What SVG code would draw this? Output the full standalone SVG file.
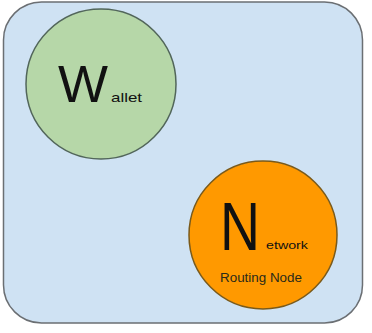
<svg xmlns="http://www.w3.org/2000/svg" width="372" height="333" viewBox="0 0 372 333">
<style>
.t{font-family:"Liberation Sans",Arial,sans-serif;fill:#111}
.s{font-family:"Liberation Sans",Arial,sans-serif;fill:#2a2a1a}
</style>
<rect width="372" height="333" fill="#ffffff"/>
<g id="container">
<rect x="3.5" y="2" width="359" height="321" rx="38" ry="38" fill="#cfe2f3" stroke="#6b6f73" stroke-width="1.5"/>
</g>
<g id="wallet">
<circle cx="101" cy="84" r="75" fill="#b6d7a8" stroke="#52665a" stroke-width="1.5"/>
<text class="t" x="58" y="102" font-size="52" textLength="50" lengthAdjust="spacingAndGlyphs">W</text>
<text class="t" x="111" y="102" font-size="13" textLength="31" lengthAdjust="spacingAndGlyphs">allet</text>
</g>
<g id="network">
<circle cx="263" cy="235" r="74" fill="#ff9900" stroke="#7a5a1a" stroke-width="1.5"/>
<text class="t" x="220" y="250" font-size="68" textLength="40" lengthAdjust="spacingAndGlyphs">N</text>
<text class="t" x="266" y="249" font-size="11" textLength="42" lengthAdjust="spacingAndGlyphs">etwork</text>
<text class="s" x="220" y="282" font-size="12" textLength="82" lengthAdjust="spacingAndGlyphs">Routing Node</text>
</g>
<g id="connectors"></g>
</svg>
